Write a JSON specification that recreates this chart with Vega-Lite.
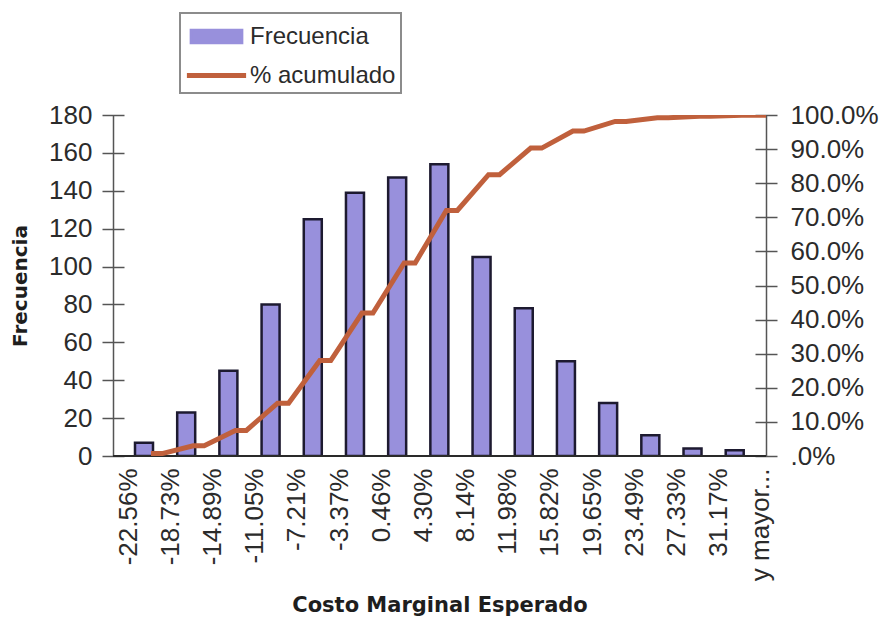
{
  "$schema": "https://vega.github.io/schema/vega-lite/v6.json",
  "width": 653,
  "height": 341,
  "autosize": {"type": "none"},
  "padding": {"left": 113, "top": 115, "right": 117, "bottom": 168},
  "background": "white",
  "config": {"view": {"stroke": null}, "font": "Liberation Sans"},
  "datasets": {
    "frecuencias": [
      {"clase": "-22.56%", "frecuencia": 7},
      {"clase": "-18.73%", "frecuencia": 23},
      {"clase": "-14.89%", "frecuencia": 45},
      {"clase": "-11.05%", "frecuencia": 80},
      {"clase": "-7.21%", "frecuencia": 125},
      {"clase": "-3.37%", "frecuencia": 139},
      {"clase": "0.46%", "frecuencia": 147},
      {"clase": "4.30%", "frecuencia": 154},
      {"clase": "8.14%", "frecuencia": 105},
      {"clase": "11.98%", "frecuencia": 78},
      {"clase": "15.82%", "frecuencia": 50},
      {"clase": "19.65%", "frecuencia": 28},
      {"clase": "23.49%", "frecuencia": 11},
      {"clase": "27.33%", "frecuencia": 4},
      {"clase": "31.17%", "frecuencia": 3},
      {"clase": "y mayor...", "frecuencia": 1}
    ],
    "acumulado": [
      {"clase": "-22.56%", "punto": "centro", "acum": 0.007},
      {"clase": "-22.56%", "punto": "borde", "acum": 0.007},
      {"clase": "-18.73%", "punto": "centro", "acum": 0.030},
      {"clase": "-18.73%", "punto": "borde", "acum": 0.030},
      {"clase": "-14.89%", "punto": "centro", "acum": 0.075},
      {"clase": "-14.89%", "punto": "borde", "acum": 0.075},
      {"clase": "-11.05%", "punto": "centro", "acum": 0.155},
      {"clase": "-11.05%", "punto": "borde", "acum": 0.155},
      {"clase": "-7.21%", "punto": "centro", "acum": 0.280},
      {"clase": "-7.21%", "punto": "borde", "acum": 0.280},
      {"clase": "-3.37%", "punto": "centro", "acum": 0.419},
      {"clase": "-3.37%", "punto": "borde", "acum": 0.419},
      {"clase": "0.46%", "punto": "centro", "acum": 0.566},
      {"clase": "0.46%", "punto": "borde", "acum": 0.566},
      {"clase": "4.30%", "punto": "centro", "acum": 0.720},
      {"clase": "4.30%", "punto": "borde", "acum": 0.720},
      {"clase": "8.14%", "punto": "centro", "acum": 0.825},
      {"clase": "8.14%", "punto": "borde", "acum": 0.825},
      {"clase": "11.98%", "punto": "centro", "acum": 0.903},
      {"clase": "11.98%", "punto": "borde", "acum": 0.903},
      {"clase": "15.82%", "punto": "centro", "acum": 0.953},
      {"clase": "15.82%", "punto": "borde", "acum": 0.953},
      {"clase": "19.65%", "punto": "centro", "acum": 0.981},
      {"clase": "19.65%", "punto": "borde", "acum": 0.981},
      {"clase": "23.49%", "punto": "centro", "acum": 0.992},
      {"clase": "23.49%", "punto": "borde", "acum": 0.992},
      {"clase": "27.33%", "punto": "centro", "acum": 0.996},
      {"clase": "27.33%", "punto": "borde", "acum": 0.996},
      {"clase": "31.17%", "punto": "centro", "acum": 0.999},
      {"clase": "31.17%", "punto": "borde", "acum": 0.999},
      {"clase": "y mayor...", "punto": "centro", "acum": 1.0},
      {"clase": "y mayor...", "punto": "borde", "acum": 1.0}
    ]
  },
  "layer": [
    {
      "data": {"name": "frecuencias"},
      "layer": [
        {
          "mark": {"type": "bar", "stroke": "#1d1a30", "strokeWidth": 2.5, "clip": true},
          "encoding": {
            "x": {
              "field": "clase",
              "type": "nominal",
              "sort": null,
              "title": "Costo Marginal Esperado",
              "scale": {"rangeMin": 22, "rangeMax": 676, "paddingInner": 0.5, "paddingOuter": 0},
              "axis": {
                "labelAngle": -90,
                "labelFont": "Liberation Sans",
                "labelFontSize": 26,
                "labelColor": "#2b2b2b",
                "labelOffset": -17,
                "labelPadding": 12,
                "labelOverlap": false,
                "labelLimit": 0,
                "ticks": false,
                "domain": false,
                "titleFont": "DejaVu Sans",
                "titleFontSize": 21,
                "titleFontWeight": "bold",
                "titleColor": "#1e1e1e",
                "titlePadding": 14,
                "titleX": 326.5
              }
            },
            "y": {
              "field": "frecuencia",
              "type": "quantitative",
              "title": "Frecuencia",
              "scale": {"domain": [0, 180]},
              "axis": {
                "orient": "left",
                "values": [0, 20, 40, 60, 80, 100, 120, 140, 160, 180],
                "grid": false,
                "ticks": false,
                "domainColor": "#555555",
                "domainWidth": 1.5,
                "labelFont": "Liberation Sans",
                "labelFontSize": 26,
                "labelColor": "#2b2b2b",
                "labelPadding": 21,
                "titleFont": "DejaVu Sans",
                "titleFontSize": 20,
                "titleFontWeight": "bold",
                "titleColor": "#1e1e1e",
                "titlePadding": 18
              }
            },
            "color": {
              "datum": "Frecuencia",
              "scale": {"domain": ["Frecuencia", "% acumulado"], "range": ["#9890dc", "#c0603c"]},
              "legend": {
                "title": null,
                "orient": "none",
                "legendX": 67,
                "legendY": -102,
                "direction": "vertical",
                "padding": 5,
                "strokeColor": "#8c8c8c",
                "labelFont": "Liberation Sans",
                "labelFontSize": 24,
                "labelColor": "#2b2b2b",
                "labelOffset": 15,
                "symbolSize": 1024,
                "symbolOffset": 13,
                "rowPadding": 8,
                "encode": {
                  "legend": {"update": {"strokeWidth": {"value": 2}}},
                  "symbols": {
                    "update": {
                      "shape": {"signal": "(datum.value === 'Frecuencia' ? 'M-1.6,-0.4H1.6V0.4H-1.6Z' : 'M-1.85,0H1.85')"},
                      "fill": {"signal": "(datum.value === 'Frecuencia' ? '#9890dc' : 'transparent')"},
                      "stroke": {"signal": "(datum.value === 'Frecuencia' ? '#1d1a30' : '#c0603c')"},
                      "strokeWidth": {"signal": "(datum.value === 'Frecuencia' ? 2.5 : 5)"},
                      "opacity": {"value": 1}
                    }
                  }
                }
              }
            }
          }
        },
        {
          "mark": {"type": "rule", "color": "#2a2a2a", "strokeWidth": 2},
          "encoding": {
            "y": {
              "datum": 0,
              "type": "quantitative",
              "axis": {
                "orient": "left",
                "offset": -11,
                "tickSize": 22,
                "tickColor": "#555555",
                "tickWidth": 1.5,
                "labels": false,
                "domain": false,
                "grid": false,
                "title": null,
                "values": [0, 20, 40, 60, 80, 100, 120, 140, 160, 180]
              }
            }
          }
        }
      ],
      "resolve": {"axis": {"y": "independent"}}
    },
    {
      "data": {"name": "acumulado"},
      "layer": [
        {
          "mark": {"type": "line", "color": "#c0603c", "strokeWidth": 5, "strokeJoin": "miter", "clip": true},
          "encoding": {
            "x": {"field": "clase", "type": "nominal", "sort": null, "title": "Costo Marginal Esperado"},
            "xOffset": {
              "field": "punto",
              "type": "nominal",
              "sort": null,
              "scale": {"domain": ["centro", "borde"], "range": [10.5, 32.5]}
            },
            "y": {
              "field": "acum",
              "type": "quantitative",
              "scale": {"domain": [0, 1]},
              "axis": {
                "orient": "right",
                "values": [0, 0.1, 0.2, 0.3, 0.4, 0.5, 0.6, 0.7, 0.8, 0.9, 1],
                "labelExpr": "datum.value == 0 ? '.0%' : format(datum.value, '.1%')",
                "title": null,
                "grid": false,
                "ticks": false,
                "domainColor": "#555555",
                "domainWidth": 1.5,
                "labelFont": "Liberation Sans",
                "labelFontSize": 26,
                "labelColor": "#2b2b2b",
                "labelPadding": 24
              }
            },
            "color": {
              "datum": "% acumulado",
              "legend": {
                "title": null,
                "orient": "none",
                "legendX": 67,
                "legendY": -102,
                "direction": "vertical",
                "padding": 5,
                "strokeColor": "#8c8c8c",
                "labelFont": "Liberation Sans",
                "labelFontSize": 24,
                "labelColor": "#2b2b2b",
                "labelOffset": 15,
                "symbolSize": 1024,
                "symbolOffset": 13,
                "rowPadding": 8,
                "encode": {
                  "legend": {"update": {"strokeWidth": {"value": 2}}},
                  "symbols": {
                    "update": {
                      "shape": {"signal": "(datum.value === 'Frecuencia' ? 'M-1.6,-0.4H1.6V0.4H-1.6Z' : 'M-1.85,0H1.85')"},
                      "fill": {"signal": "(datum.value === 'Frecuencia' ? '#9890dc' : 'transparent')"},
                      "stroke": {"signal": "(datum.value === 'Frecuencia' ? '#1d1a30' : '#c0603c')"},
                      "strokeWidth": {"signal": "(datum.value === 'Frecuencia' ? 2.5 : 5)"},
                      "opacity": {"value": 1}
                    }
                  }
                }
              }
            },
            "order": {"value": null}
          }
        },
        {
          "mark": {"type": "point", "opacity": 0},
          "encoding": {
            "y": {
              "datum": 0,
              "type": "quantitative",
              "axis": {
                "orient": "right",
                "offset": -11,
                "tickSize": 22,
                "tickColor": "#555555",
                "tickWidth": 1.5,
                "labels": false,
                "domain": false,
                "grid": false,
                "title": null,
                "values": [0, 0.1, 0.2, 0.3, 0.4, 0.5, 0.6, 0.7, 0.8, 0.9, 1]
              }
            }
          }
        }
      ],
      "resolve": {"axis": {"y": "independent"}}
    }
  ],
  "resolve": {"scale": {"y": "independent"}}
}
